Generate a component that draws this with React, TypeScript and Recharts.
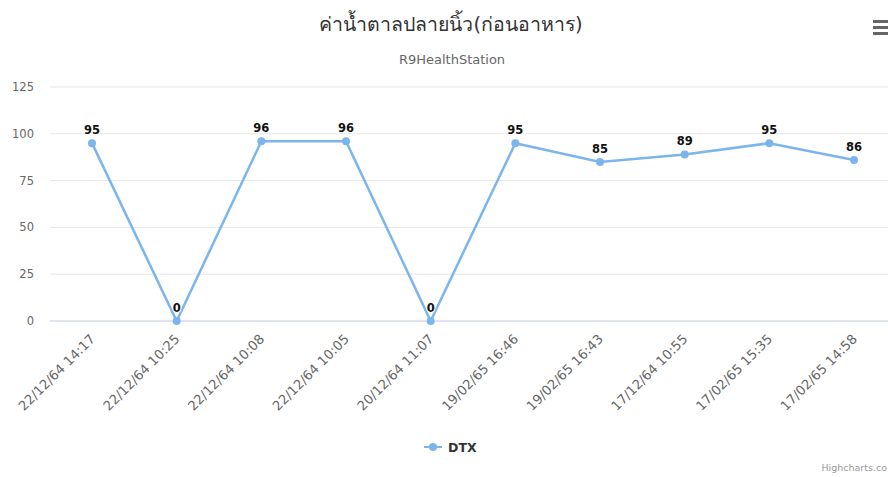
import { CartesianGrid, LabelList, Line, LineChart, XAxis, YAxis } from "recharts";

const categories = [
  "22/12/64 14:17",
  "22/12/64 10:25",
  "22/12/64 10:08",
  "22/12/64 10:05",
  "20/12/64 11:07",
  "19/02/65 16:46",
  "19/02/65 16:43",
  "17/12/64 10:55",
  "17/02/65 15:35",
  "17/02/65 14:58"
];
const dtxValues = [95, 0, 96, 96, 0, 95, 85, 89, 95, 86];
const yTicks = [0, 25, 50, 75, 100, 125];

const title = "ค่าน้ำตาลปลายนิ้ว(ก่อนอาหาร)";
const subtitle = "R9HealthStation";
const seriesName = "DTX";
const credits = "Highcharts.co";

const data = categories.map((label, i) => ({ label, dtx: dtxValues[i] }));

const FONT = '"DejaVu Sans", "Noto Sans", sans-serif';
const LINE_COLOR = "#7cb5ec";

function XTick({ x, y, payload }: { x?: number; y?: number; payload?: { value: string } }) {
  return (
    <g transform={`translate(${(x ?? 0) + 1},${(y ?? 0) + 14})`}>
      <text textAnchor="end" transform="rotate(-45)" fontSize={13.2} fill="#666666" fontFamily={FONT} dy={4}>
        {payload?.value}
      </text>
    </g>
  );
}

function YTick({ x, y, payload }: { x?: number; y?: number; payload?: { value: number } }) {
  return (
    <text x={x} y={y} dy={4} textAnchor="end" fontSize={11.5} fill="#666666" fontFamily={FONT}>
      {payload?.value}
    </text>
  );
}

function PointLabel(props: { x?: number; y?: number; value?: number }) {
  const { x = 0, y = 0, value } = props;
  return (
    <text
      x={x}
      y={y - 9}
      textAnchor="middle"
      fontSize={11.5}
      fontWeight="bold"
      fill="#111111"
      stroke="#ffffff"
      strokeWidth={2}
      paintOrder="stroke"
      fontFamily={FONT}
    >
      {value}
    </text>
  );
}

export default function App() {
  return (
    <div
      style={{
        position: "absolute",
        left: 0,
        top: 0,
        width: 888,
        height: 477,
        overflow: "hidden",
        background: "#ffffff",
        fontFamily: FONT
      }}
    >
      <div
        style={{
          position: "absolute",
          left: 0,
          width: 902,
          top: 9,
          textAlign: "center",
          fontSize: 19.5,
          color: "#333333"
        }}
      >
        {title}
      </div>
      <div
        style={{
          position: "absolute",
          left: 0,
          width: 904,
          top: 52,
          textAlign: "center",
          fontSize: 13,
          color: "#666666"
        }}
      >
        {subtitle}
      </div>

      {/* export menu button, cut off at the right edge */}
      <div style={{ position: "absolute", left: 873, top: 20, width: 20, height: 3, background: "#666666" }} />
      <div style={{ position: "absolute", left: 873, top: 26, width: 20, height: 3, background: "#666666" }} />
      <div style={{ position: "absolute", left: 873, top: 32, width: 20, height: 3, background: "#666666" }} />

      <div style={{ position: "absolute", left: 0, top: 0 }}>
        <LineChart width={905} height={477} data={data} margin={{ top: 87, right: 9, bottom: 0, left: 10 }}>
          <CartesianGrid stroke="#e6e6e6" vertical={false} />
          <XAxis
            dataKey="label"
            interval={0}
            padding={{ left: 42, right: 42 }}
            axisLine={{ stroke: "#ccd6eb" }}
            tickLine={false}
            tickSize={0}
            tick={<XTick />}
            height={156}
          />
          <YAxis
            domain={[0, 125]}
            ticks={yTicks}
            interval={0}
            width={40}
            axisLine={false}
            tickLine={false}
            tickSize={0}
            tickMargin={16}
            tick={<YTick />}
          />
          <Line
            type="linear"
            dataKey="dtx"
            name={seriesName}
            stroke={LINE_COLOR}
            strokeWidth={2.5}
            dot={{ r: 4, fill: LINE_COLOR, stroke: LINE_COLOR, strokeWidth: 0 }}
            activeDot={false}
            isAnimationActive={false}
          >
            <LabelList dataKey="dtx" content={<PointLabel />} />
          </Line>
        </LineChart>
      </div>

      {/* legend */}
      <div style={{ position: "absolute", left: 424, top: 439, display: "flex", alignItems: "center" }}>
        <svg width={20} height={16}>
          <line x1={0} y1={8} x2={18} y2={8} stroke={LINE_COLOR} strokeWidth={2} />
          <circle cx={9} cy={8} r={4} fill={LINE_COLOR} />
        </svg>
        <span style={{ marginLeft: 4, fontSize: 12.5, fontWeight: "bold", color: "#333333" }}>{seriesName}</span>
      </div>

      <div
        style={{
          position: "absolute",
          right: 1,
          top: 462,
          fontSize: 9.5,
          color: "#999999",
          whiteSpace: "nowrap"
        }}
      >
        {credits}
      </div>
    </div>
  );
}
